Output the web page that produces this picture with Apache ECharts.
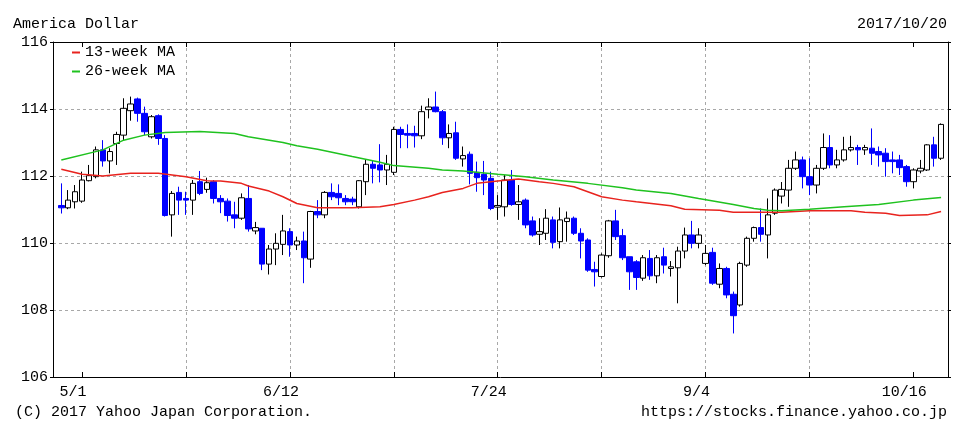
<!DOCTYPE html>
<html><head><meta charset="utf-8">
<script src="https://cdn.jsdelivr.net/npm/echarts@6/dist/echarts.min.js"></script>
<style>html,body{margin:0;padding:0;background:#fff}#c{width:967px;height:433px}</style>
</head><body><div id="c"></div>
<script>
const titleText = 'America Dollar';
const dateText = '2017/10/20';
const copyText = '(C) 2017 Yahoo Japan Corporation.';
const urlText = 'https://stocks.finance.yahoo.co.jp';

// trading-day index of the first candle (5/1 = 0); candles run on consecutive weekdays
const firstDay = -3;
const opens = [
 111.12,111.05,111.23,111.25,111.86,111.98,112.78,112.45,112.97,113.22,
 113.95,114.30,113.87,113.17,113.80,113.12,110.84,111.51,111.33,111.28,
 111.83,111.60,111.83,111.33,111.25,110.84,110.74,111.33,110.36,110.44,
 109.37,109.82,109.96,110.34,109.94,110.06,109.52,110.94,110.84,111.51,
 111.48,111.33,111.31,111.08,111.83,112.35,112.33,112.18,112.11,113.39,
 113.27,113.27,113.20,113.98,114.06,113.92,113.14,113.29,112.51,112.65,
 112.11,112.05,111.93,111.07,111.08,111.88,111.15,111.28,110.66,110.26,
 110.29,110.69,110.04,110.64,110.74,110.29,110.09,109.21,109.00,109.62,
 110.66,110.22,109.59,109.44,108.95,109.54,109.02,109.59,109.24,109.26,
 109.76,110.24,109.99,109.39,109.72,108.77,109.24,108.47,108.15,109.34,
 110.14,110.46,110.24,110.89,111.40,111.58,112.23,112.48,111.98,111.73,
 112.23,112.85,112.33,112.48,112.78,112.85,112.78,112.83,112.73,112.68,
 112.48,112.48,112.28,111.83,112.15,112.18,112.93,112.53
];
const closes = [
 111.05,111.28,111.53,111.88,112.01,112.78,112.45,112.73,113.24,114.02,
 114.15,113.87,113.32,113.77,113.12,110.82,111.48,111.28,111.28,111.78,
 111.48,111.80,111.33,111.23,110.82,110.74,111.35,110.42,110.46,109.37,
 109.82,109.99,110.36,109.94,110.06,109.56,110.94,110.84,111.51,111.38,
 111.35,111.23,111.23,111.86,112.35,112.23,112.18,112.35,113.39,113.24,
 113.22,113.20,113.92,114.06,113.92,113.14,113.27,112.53,112.61,112.08,
 111.95,111.88,111.03,111.12,111.88,111.15,111.23,110.54,110.24,110.34,
 110.74,110.02,110.69,110.74,110.29,110.06,109.19,109.14,109.64,110.66,
 110.19,109.56,109.14,108.97,109.56,109.02,109.56,109.34,109.29,109.76,
 110.24,109.99,110.24,109.69,108.80,109.24,108.45,107.83,109.39,110.14,
 110.46,110.26,110.84,111.58,111.60,112.23,112.48,111.98,111.73,112.23,
 112.85,112.33,112.48,112.78,112.85,112.78,112.85,112.68,112.63,112.43,
 112.43,112.25,111.83,112.18,112.23,112.93,112.53,113.54
];
const highs = [
 111.78,111.58,111.73,112.13,112.33,112.88,113.07,112.83,113.32,114.32,
 114.37,114.34,114.07,113.82,113.84,113.22,111.55,111.68,111.53,111.88,
 112.15,111.95,111.88,111.43,111.33,111.23,111.48,111.73,110.63,110.44,
 109.94,110.29,110.84,110.44,110.19,110.34,110.96,111.28,111.55,111.78,
 111.75,111.43,111.38,111.88,112.48,112.45,112.95,112.63,113.47,113.47,
 113.54,113.50,114.10,114.32,114.52,113.97,113.54,113.62,112.88,112.73,
 112.43,112.45,112.13,111.43,112.03,112.18,111.73,111.33,110.79,110.74,
 111.01,110.79,111.06,110.94,110.79,110.44,110.14,109.44,109.69,110.69,
 110.99,110.42,109.59,109.49,109.64,109.79,109.64,109.86,109.46,109.89,
 110.46,110.66,110.44,109.94,109.86,109.39,109.29,108.55,109.44,110.19,
 110.49,111.03,111.33,111.63,111.82,112.48,112.73,112.58,112.53,112.33,
 113.27,113.22,112.78,113.17,113.20,112.93,112.93,113.42,112.88,112.83,
 112.73,112.63,112.33,112.23,112.48,112.95,113.17,113.57
];
const lows = [
 110.88,111.01,111.03,111.20,111.84,111.93,112.28,112.08,112.33,113.07,
 113.65,113.62,113.22,113.12,112.93,110.79,110.19,110.84,110.84,110.84,
 111.43,111.50,111.18,110.89,110.64,110.44,110.69,110.34,110.26,109.19,
 109.06,109.34,109.64,109.59,109.79,108.80,109.26,110.74,110.74,111.28,
 111.13,111.13,111.13,111.03,111.43,111.78,111.81,111.73,112.03,112.83,
 112.83,112.85,113.10,113.72,113.90,112.93,112.83,112.48,112.28,111.75,
 111.53,111.43,110.98,110.69,110.79,111.11,110.69,110.44,110.19,109.94,
 110.09,109.84,109.84,110.04,110.24,109.54,109.14,108.70,108.97,109.56,
 110.09,109.49,108.60,108.60,108.87,108.90,108.80,109.09,109.00,108.20,
 109.54,109.84,109.84,109.34,108.75,108.65,108.35,107.30,108.10,109.29,
 110.04,110.04,109.54,110.84,111.18,111.08,112.18,111.63,111.43,111.48,
 112.18,112.23,112.23,112.43,112.73,112.33,112.63,112.33,112.28,111.98,
 112.08,112.03,111.68,111.63,112.08,112.15,112.28,112.48
];

// moving averages read at selected trading days
const ma13Days = [-3,0,3,7,11,15,18,20,23,24,27,29,31,34,39,43,45,48,50,52,55,57,60,63,66,68,71,73,75,78,80,85,87,92,94,101,105,111,113,116,118,122,124];
const ma13 = [112.20,112.05,112.00,112.08,112.08,111.98,111.86,111.85,111.78,111.70,111.55,111.38,111.18,111.05,111.05,111.08,111.15,111.28,111.38,111.51,111.63,111.78,111.85,111.91,111.83,111.78,111.68,111.53,111.38,111.28,111.23,111.11,111.01,110.98,110.92,110.92,110.96,110.96,110.92,110.89,110.82,110.84,110.94];
const ma26Days = [-3,3,6,9,12,17,22,24,29,31,34,39,43,45,50,52,55,60,64,68,73,78,80,85,89,94,97,99,101,105,110,115,120,124];
const ma26 = [112.48,112.78,113.07,113.22,113.30,113.33,113.27,113.17,113.00,112.90,112.80,112.58,112.41,112.31,112.23,112.18,112.15,112.05,111.98,111.88,111.78,111.65,111.58,111.48,111.33,111.15,111.03,110.98,110.96,111.01,111.08,111.15,111.28,111.36];

const gridDays = [0,15,30,45,60,75,90,105,120];
const labelDays = [0,30,60,90,120];
const tickLabels = ['5/1','6/12','7/24','9/4','10/16'];
const yMin = 106, yMax = 116, yStep = 2;

const FONT = "'Liberation Mono', 'DejaVu Sans Mono', monospace";
const candles = opens.map((o, i) => [firstDay + i, o, closes[i], lows[i], highs[i]]);
const line = (days, vals) => days.map((d, i) => [d, vals[i]]);

const gridLine = {show: true, showMinLine: false, showMaxLine: false, lineStyle: {color: '#a8a8a8', type: [3, 3], width: 1}};
const xBase = {type: 'value', min: -4.2, max: 125};

const chart = echarts.init(document.getElementById('c'), null, {renderer: 'canvas'});
chart.setOption({
  animation: false,
  backgroundColor: '#fff',
  grid: {left: 53, right: 19, top: 42, bottom: 56, containLabel: false},
  graphic: [
    {type: 'text', left: 13, top: 17, style: {text: titleText, font: '15px ' + FONT, fill: '#000'}},
    {type: 'text', right: 20, top: 17, style: {text: dateText, font: '15px ' + FONT, fill: '#000'}},
    {type: 'text', left: 15, top: 405, style: {text: copyText, font: '15px ' + FONT, fill: '#000'}},
    {type: 'text', right: 20, top: 405, style: {text: urlText, font: '15px ' + FONT, fill: '#000'}}
  ],
  legend: {
    data: ['13-week MA', '26-week MA'], orient: 'vertical', left: 72, top: 45, padding: 0,
    itemGap: 4, itemWidth: 8, itemHeight: 2, icon: 'rect',
    textStyle: {fontFamily: FONT, fontSize: 15, color: '#000', lineHeight: 15}
  },
  xAxis: [
    Object.assign({}, xBase, {
      position: 'bottom',
      axisLine: {show: true, onZero: false, lineStyle: {color: '#000', width: 1}},
      axisTick: {show: true, inside: true, length: 5, customValues: gridDays, lineStyle: {color: '#000'}},
      axisLabel: {show: true, customValues: labelDays, margin: 8, color: '#000', fontFamily: FONT, fontSize: 15,
                  padding: [0, 18, 0, 0], formatter: v => tickLabels[labelDays.indexOf(v)]},
      splitLine: gridLine
    }),
    Object.assign({}, xBase, {
      position: 'top',
      axisLine: {show: true, onZero: false, lineStyle: {color: '#000', width: 1}},
      axisTick: {show: true, inside: true, length: 5, customValues: gridDays, lineStyle: {color: '#000'}},
      axisLabel: {show: false},
      splitLine: {show: false}
    })
  ],
  yAxis: [
    {
      type: 'value', min: yMin, max: yMax, interval: yStep, position: 'left',
      axisLine: {show: true, onZero: false, lineStyle: {color: '#000', width: 1}},
      axisTick: {show: true, length: 3, lineStyle: {color: '#000'}},
      axisLabel: {margin: 5, color: '#000', fontFamily: FONT, fontSize: 15},
      splitLine: gridLine
    },
    {
      type: 'value', min: yMin, max: yMax, interval: yStep, position: 'right',
      axisLine: {show: true, onZero: false, lineStyle: {color: '#000', width: 1}},
      axisTick: {show: true, length: 3, lineStyle: {color: '#000'}},
      axisLabel: {show: false},
      splitLine: {show: false}
    }
  ],
  series: [
    {
      type: 'candlestick', name: 'USD/JPY', xAxisIndex: 0, yAxisIndex: 0,
      data: candles, encode: {x: 0, y: [1, 2, 3, 4]}, barWidth: 6,
      itemStyle: {color: '#ffffff', color0: '#0000ff', borderColor: '#000000', borderColor0: '#0000ff', borderWidth: 1}
    },
    {
      type: 'line', name: '13-week MA', xAxisIndex: 0, yAxisIndex: 0, data: line(ma13Days, ma13),
      showSymbol: false, symbol: 'none', color: '#e8231e', lineStyle: {color: '#e8231e', width: 1.5}, z: 3
    },
    {
      type: 'line', name: '26-week MA', xAxisIndex: 0, yAxisIndex: 0, data: line(ma26Days, ma26),
      showSymbol: false, symbol: 'none', color: '#1fc21f', lineStyle: {color: '#1fc21f', width: 1.5}, z: 3
    }
  ]
});
</script>
</body></html>
